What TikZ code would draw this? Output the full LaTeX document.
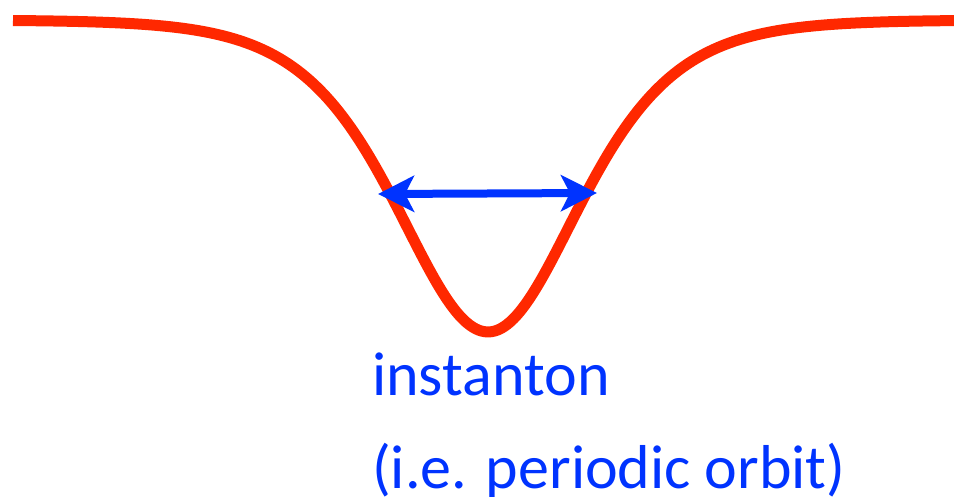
\documentclass[tikz,border=0pt]{standalone}
\usepackage{fontspec}
\setmainfont{Carlito}
\usetikzlibrary{arrows.meta}
\definecolor{orbitred}{RGB}{255,40,0}
\definecolor{orbitblue}{RGB}{0,51,255}
\tikzset{
  bluetext/.style={anchor=base west, inner sep=0pt, text=orbitblue, font=\fontsize{62}{74}\selectfont},
  widthtip/.style={{Stealth[length=36pt,width=36pt,inset=9pt]}-{Stealth[length=36pt,width=36pt,inset=9pt]}}
}

\begin{document}
\begin{tikzpicture}[x=1pt,y=-1pt]
\useasboundingbox (0,0) rectangle (954,497);
\draw [line width=11pt, orbitred, domain=13:954, samples=300, smooth] plot (\x, {20+312/(cosh((\x-488)/122))^2});
\coordinate (wleft) at (378,194);
\coordinate (wright) at (597,193);
\draw [widthtip, line width=8pt, orbitblue] (wleft) -- (wright);
\node [bluetext] (inst) at (372,395) {instanton};
\node [bluetext] (orbit) at (372,488) {(i.e. periodic orbit)};
\end{tikzpicture}
\end{document}
